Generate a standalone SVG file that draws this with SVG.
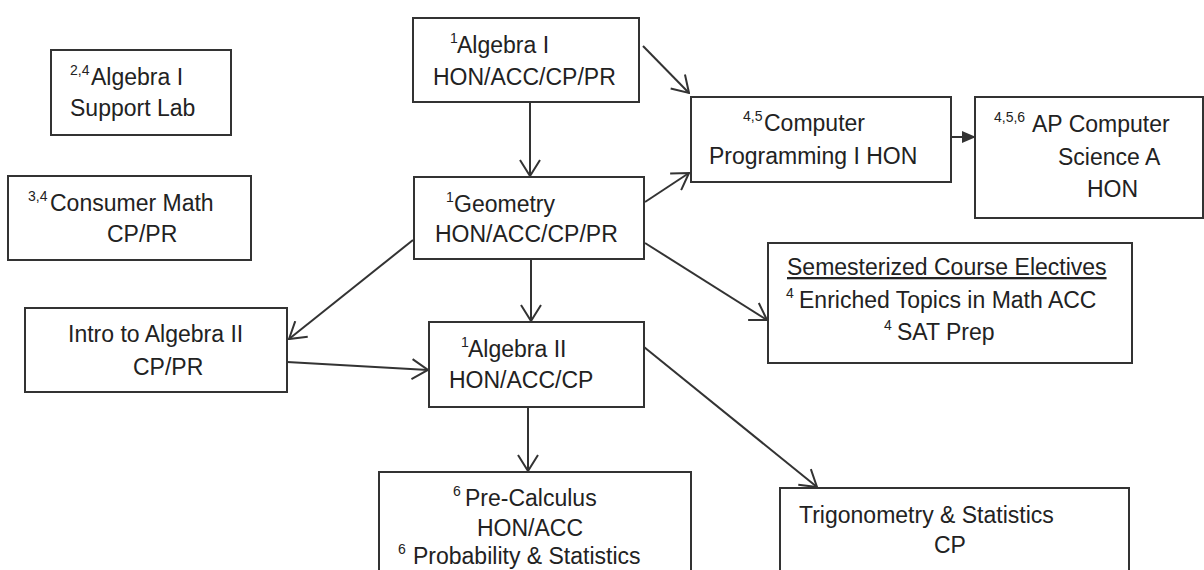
<svg xmlns="http://www.w3.org/2000/svg" width="1204" height="570" viewBox="0 0 1204 570">
<style>
.box{fill:#fff;stroke:#333;stroke-width:2}
.t{font-family:"Liberation Sans",Arial,sans-serif;font-size:23px;fill:#222}
.sup{font-size:14px}
.c{fill:none;stroke:#333;stroke-width:2}
</style>
<defs>
<marker id="v" viewBox="0 0 18 22" refX="17" refY="11" markerWidth="18" markerHeight="22" markerUnits="userSpaceOnUse" orient="auto">
<path d="M1,1 L17,11 L1,21" fill="none" stroke="#333" stroke-width="2"/>
</marker>
<marker id="f" viewBox="0 0 14 12" refX="13" refY="6" markerWidth="14" markerHeight="12" markerUnits="userSpaceOnUse" orient="auto">
<path d="M0,0 L14,6 L0,12 Z" fill="#333"/>
</marker>
</defs>
<rect width="1204" height="570" fill="#fff"/>
<g id="connectors">
<line class="c" x1="530" y1="102" x2="530" y2="176" marker-end="url(#v)"/>
<line class="c" x1="643" y1="46" x2="689" y2="93" marker-end="url(#v)"/>
<line class="c" x1="645" y1="202" x2="689" y2="173" marker-end="url(#v)"/>
<line class="c" x1="942" y1="137" x2="975" y2="137" marker-end="url(#f)"/>
<line class="c" x1="645" y1="243" x2="767" y2="320" marker-end="url(#v)"/>
<line class="c" x1="413" y1="240" x2="289" y2="339" marker-end="url(#v)"/>
<line class="c" x1="531" y1="259" x2="531" y2="321" marker-end="url(#v)"/>
<line class="c" x1="287" y1="362" x2="428" y2="370" marker-end="url(#v)"/>
<line class="c" x1="528" y1="407" x2="528" y2="471" marker-end="url(#v)"/>
<line class="c" x1="644" y1="347" x2="817" y2="487" marker-end="url(#v)"/>
</g>
<g id="support-lab">
<rect class="box" x="51" y="50" width="180" height="85"/>
<text class="t" x="70" y="85"><tspan class="sup" dy="-10">2,4</tspan><tspan x="91" dy="10">Algebra I</tspan></text>
<text class="t" x="70" y="116">Support Lab</text>
</g>
<g id="consumer-math">
<rect class="box" x="8" y="176" width="243" height="84"/>
<text class="t" x="28" y="211"><tspan class="sup" dy="-10">3,4</tspan><tspan x="50" dy="10">Consumer Math</tspan></text>
<text class="t" x="107" y="242">CP/PR</text>
</g>
<g id="algebra-1">
<rect class="box" x="413" y="18" width="226" height="84"/>
<text class="t" x="450" y="53"><tspan class="sup" dy="-10">1</tspan><tspan x="457" dy="10">Algebra I</tspan></text>
<text class="t" x="433" y="85">HON/ACC/CP/PR</text>
</g>
<g id="geometry">
<rect class="box" x="414" y="177" width="230" height="82"/>
<text class="t" x="446" y="212"><tspan class="sup" dy="-10">1</tspan><tspan x="454" dy="10">Geometry</tspan></text>
<text class="t" x="435" y="242">HON/ACC/CP/PR</text>
</g>
<g id="computer-programming">
<rect class="box" x="691" y="97" width="260" height="85"/>
<text class="t" x="743" y="131"><tspan class="sup" dy="-10">4,5</tspan><tspan x="764" dy="10">Computer</tspan></text>
<text class="t" x="709" y="164">Programming I HON</text>
</g>
<g id="ap-cs">
<rect class="box" x="975" y="97" width="228" height="121"/>
<text class="t" x="994" y="132"><tspan class="sup" dy="-10">4,5,6</tspan><tspan x="1032" dy="10">AP Computer</tspan></text>
<text class="t" x="1058" y="165">Science A</text>
<text class="t" x="1087" y="197">HON</text>
</g>
<g id="electives">
<rect class="box" x="768" y="243" width="364" height="120"/>
<text class="t" x="787" y="275" text-decoration="underline">Semesterized Course Electives</text>
<text class="t" x="786" y="308"><tspan class="sup" dy="-10">4</tspan><tspan x="799" dy="10">Enriched Topics in Math ACC</tspan></text>
<text class="t" x="884" y="340"><tspan class="sup" dy="-10">4</tspan><tspan x="897" dy="10">SAT Prep</tspan></text>
</g>
<g id="intro-algebra-2">
<rect class="box" x="25" y="308" width="262" height="84"/>
<text class="t" x="68" y="342">Intro to Algebra II</text>
<text class="t" x="133" y="375">CP/PR</text>
</g>
<g id="algebra-2">
<rect class="box" x="429" y="322" width="215" height="85"/>
<text class="t" x="461" y="357"><tspan class="sup" dy="-10">1</tspan><tspan x="468" dy="10">Algebra II</tspan></text>
<text class="t" x="449" y="388">HON/ACC/CP</text>
</g>
<g id="precalc">
<rect class="box" x="379" y="472" width="312" height="110"/>
<text class="t" x="453" y="506"><tspan class="sup" dy="-10">6</tspan><tspan x="465" dy="10">Pre-Calculus</tspan></text>
<text class="t" x="477" y="536">HON/ACC</text>
<text class="t" x="398" y="564"><tspan class="sup" dy="-10">6</tspan><tspan x="413" dy="10">Probability &amp; Statistics</tspan></text>
</g>
<g id="trig-stats">
<rect class="box" x="780" y="488" width="349" height="100"/>
<text class="t" x="799" y="523">Trigonometry &amp; Statistics</text>
<text class="t" x="934" y="553">CP</text>
</g>
</svg>
